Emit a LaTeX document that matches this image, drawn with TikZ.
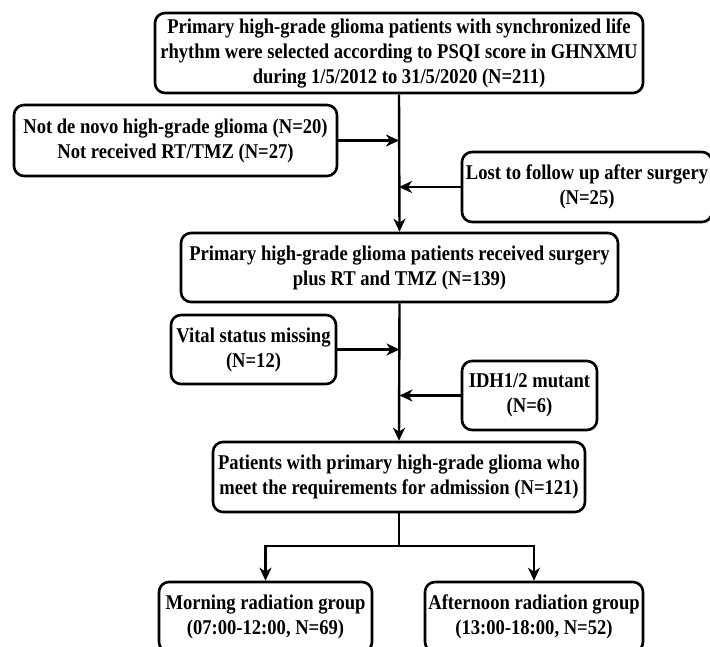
\documentclass[tikz,border=0pt]{standalone}
\usepackage{fontspec}
\setmainfont{Liberation Serif}[FakeStretch=0.885]
\usetikzlibrary{arrows.meta}
\begin{document}
\begin{tikzpicture}[x=1pt,y=-1pt,
  box/.style={draw=black, line width=2.6pt, rounded corners=10pt, align=center,
    inner sep=0pt, font=\fontsize{21}{25}\selectfont\bfseries},
  arr/.style={line width=2.4pt, -{Stealth[length=13pt,width=12pt,inset=4pt]}},
  ln/.style={line width=2.4pt}]
\useasboundingbox (0,0) rectangle (710,647);
\node[box, minimum width=488pt, minimum height=80pt] (top) at (399,53)
  {Primary high-grade glioma patients with synchronized life\\rhythm were selected according to PSQI score in GHNXMU\\during 1/5/2012 to 31/5/2020 (N=211)};
\node[box, minimum width=323pt, minimum height=71pt] (ex1) at (175.5,140.5)
  {Not de novo high-grade glioma (N=20)\\Not received RT/TMZ (N=27)};
\node[box, minimum width=250pt, minimum height=70pt] (ex2) at (587,187)
  {Lost to follow up after surgery\\(N=25)};
\node[box, minimum width=437pt, minimum height=69pt] (mid) at (399.5,267.5)
  {Primary high-grade glioma patients received surgery\\plus RT and TMZ (N=139)};
\node[box, minimum width=165pt, minimum height=69pt] (ex3) at (253.5,349.5)
  {Vital status missing\\(N=12)};
\node[box, minimum width=135pt, minimum height=69pt] (ex4) at (529.5,395.5)
  {IDH1/2 mutant\\(N=6)};
\node[box, minimum width=372pt, minimum height=70pt] (fin) at (399,477)
  {Patients with primary high-grade glioma who\\meet the requirements for admission (N=121)};
\node[box, minimum width=213pt, minimum height=70pt] (am) at (265.5,617)
  {Morning radiation group\\(07:00-12:00, N=69)};
\node[box, minimum width=218pt, minimum height=70pt] (pm) at (534,617)
  {Afternoon radiation group\\(13:00-18:00, N=52)};
\draw[arr] (top.south) -- (mid.north);
\draw[arr] (ex1.east) -- (ex1.east -| top.south);
\draw[arr] (ex2.west) -- (ex2.west -| top.south);
\draw[arr] (mid.south) -- (fin.north);
\draw[arr] (ex3.east) -- (ex3.east -| mid.south);
\draw[arr] (ex4.west) -- (ex4.west -| mid.south);
\coordinate (br) at (399,546);
\draw[ln] (fin.south) -- (br);
\draw[arr] (br) -| (am.north);
\draw[arr] (br) -| (pm.north);
\end{tikzpicture}
\end{document}
